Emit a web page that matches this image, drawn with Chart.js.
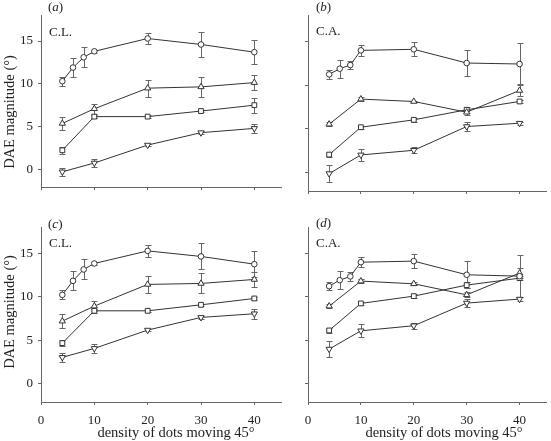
<!DOCTYPE html>
<html>
<head>
<meta charset="utf-8">
<script src="https://cdn.jsdelivr.net/npm/chart.js@4.4.1/dist/chart.umd.min.js"></script>
<style>
    body { margin: 0; background: #fff; }
    #page { position: relative; width: 551px; height: 441px; overflow: hidden;
            font-family: "Liberation Serif", "DejaVu Serif", serif; color: #222; }
    .panel { position: absolute; }
    .txt { position: absolute; white-space: nowrap; font-size: 13px; line-height: 14px; }
    .ytitle { position: absolute; white-space: nowrap; font-size: 14.5px; line-height: 16px;
              transform: translate(-50%, -50%) rotate(-90deg); }
    .xtitle { position: absolute; white-space: nowrap; font-size: 14.5px; line-height: 16px;
              transform: translate(-50%, -50%); }
</style>
</head>
<body>
<div id="page">
    <div class="panel" style="left:0;top:0;width:286px;height:200px"><canvas id="chart-a"></canvas></div>
    <div class="panel" style="left:286px;top:0;width:265px;height:200px"><canvas id="chart-b"></canvas></div>
    <div class="panel" style="left:0;top:212px;width:286px;height:229px"><canvas id="chart-c"></canvas></div>
    <div class="panel" style="left:286px;top:212px;width:265px;height:229px"><canvas id="chart-d"></canvas></div>

    <div class="txt" style="left:48px;top:0">(<i>a</i>)</div>
    <div class="txt" style="left:49px;top:25px">C.L.</div>
    <div class="txt" style="left:316px;top:0">(<i>b</i>)</div>
    <div class="txt" style="left:316px;top:24px">C.A.</div>
    <div class="txt" style="left:48px;top:217px">(<i>c</i>)</div>
    <div class="txt" style="left:49px;top:236px">C.L.</div>
    <div class="txt" style="left:316px;top:216px">(<i>d</i>)</div>
    <div class="txt" style="left:316px;top:236px">C.A.</div>

    <div class="ytitle" style="left:9px;top:112px">DAE magnitude (°)</div>
    <div class="ytitle" style="left:9px;top:312px">DAE magnitude (°)</div>
    <div class="xtitle" style="left:176px;top:432px">density of dots moving 45°</div>
    <div class="xtitle" style="left:444px;top:432px">density of dots moving 45°</div>
</div>

<script>
// ── Dados ────────────────────────────────────────────────────────────────────

const DENSITY_FINE = [4, 6, 8, 10, 20, 30, 40];   // círculos
const DENSITY = [4, 10, 20, 30, 40];              // demais séries

// (a) C.L.
const A_CIRCLE     = [10.3, 11.9, 13.1, 13.8, 15.3, 14.6, 13.7];
const A_CIRCLE_ERR = [0.5, 1.1, 1.15, 0.2, 0.65, 1.5, 1.42];
const A_UP         = [5.36, 7.08, 9.49, 9.64, 10.14];
const A_UP_ERR     = [0.78, 0.57, 1.0, 1.15, 0.9];
const A_SQUARE     = [2.22, 6.16, 6.16, 6.81, 7.5];
const A_SQUARE_ERR = [0.38, 0.2, 0.2, 0.15, 0.88];
const A_DOWN       = [-0.3, 0.73, 2.83, 4.28, 4.78];
const A_DOWN_ERR   = [0.5, 0.52, 0.15, 0.2, 0.57];

// (b) C.A.
const B_CIRCLE     = [11.25, 11.9, 12.32, 14.0, 14.12, 12.55, 12.44];
const B_CIRCLE_ERR = [0.52, 1.05, 0.5, 0.6, 0.8, 1.53, 2.4];
const B_UP         = [5.55, 8.42, 8.15, 6.92, 9.41];
const B_UP_ERR     = [0.2, 0.2, 0.1, 0.3, 0.69];
const B_SQUARE     = [2.07, 5.2, 6.05, 7.2, 8.15];
const B_SQUARE_ERR = [0.3, 0.15, 0.2, 0.35, 0.15];
const B_DOWN       = [-0.11, 2.03, 2.56, 5.28, 5.66];
const B_DOWN_ERR   = [1.0, 0.73, 0.35, 0.52, 0.15];

// (c) C.L.
const C_CIRCLE     = [10.24, 11.85, 13.16, 13.85, 15.3, 14.66, 13.77];
const C_CIRCLE_ERR = [0.5, 1.1, 1.15, 0.2, 0.67, 1.5, 1.46];
const C_UP         = [7.21, 8.94, 11.44, 11.55, 12.01];
const C_UP_ERR     = [0.8, 0.56, 1.0, 1.15, 0.9];
const C_SQUARE     = [4.68, 8.4, 8.4, 9.09, 9.82];
const C_SQUARE_ERR = [0.35, 0.2, 0.15, 0.15, 0.15];
const C_DOWN       = [3.04, 4.07, 6.18, 7.64, 8.06];
const C_DOWN_ERR   = [0.48, 0.52, 0.15, 0.2, 0.6];

// (d) C.A.
const D_CIRCLE     = [11.24, 11.93, 12.36, 14.0, 14.12, 12.55, 12.39];
const D_CIRCLE_ERR = [0.5, 1.05, 0.5, 0.6, 0.8, 1.53, 2.4];
const D_UP         = [8.94, 11.82, 11.51, 10.24, 12.74];
const D_UP_ERR     = [0.2, 0.2, 0.15, 0.3, 0.6];
const D_SQUARE     = [6.14, 9.25, 10.09, 11.36, 12.16];
const D_SQUARE_ERR = [0.25, 0.15, 0.2, 0.35, 0.2];
const D_DOWN       = [3.99, 6.1, 6.68, 9.29, 9.75];
const D_DOWN_ERR   = [0.96, 0.73, 0.35, 0.5, 0.2];

const X_TICKS = [0, 10, 20, 30, 40];
const Y_TICKS = [0, 5, 10, 15];

// ── Estilo ───────────────────────────────────────────────────────────────────

const AXIS_COLOR = '#666';
const LINE_COLOR = '#333';
const ERR_COLOR = '#666';
const TICK_FONT = { family: '"Liberation Serif", serif', size: 13 };

// barras de erro desenhadas pelas escalas do próprio gráfico
const errorBars = {
    id: 'errorBars',
    beforeDatasetsDraw(chart) {
        const { ctx, scales: { x, y } } = chart;
        ctx.save();
        ctx.strokeStyle = ERR_COLOR;
        ctx.lineWidth = 1;
        chart.data.datasets.forEach(ds => {
            ds.data.forEach((p, i) => {
                const e = ds.errors[i];
                if (!e) return;
                const px = Math.round(x.getPixelForValue(p.x)) + 0.5;
                const top = Math.round(y.getPixelForValue(p.y + e)) + 0.5;
                const bot = Math.round(y.getPixelForValue(p.y - e)) + 0.5;
                ctx.beginPath();
                ctx.moveTo(px, top); ctx.lineTo(px, bot);
                ctx.moveTo(px - 3, top); ctx.lineTo(px + 3, top);
                ctx.moveTo(px - 3, bot); ctx.lineTo(px + 3, bot);
                ctx.stroke();
            });
        });
        ctx.restore();
    },
};

function makeDataset(xs, ys, errs, style, radius, rotation) {
    return {
        data: xs.map((x, i) => ({ x, y: ys[i] })),
        errors: errs,
        borderColor: LINE_COLOR,
        borderWidth: 1,
        pointStyle: style,
        pointRadius: radius,
        pointRotation: rotation || 0,
        pointBackgroundColor: '#fff',
        pointBorderColor: LINE_COLOR,
        pointBorderWidth: 1,
        tension: 0,
    };
}

function keepTicks(list) {
    return (scale) => { scale.ticks = list.map(v => ({ value: v })); };
}

function makePanel(id, series, opts) {
    const { showX, showY, yWidth, xHeight, padRight } = opts;
    return new Chart(document.getElementById(id), {
        type: 'line',
        data: {
            datasets: [
                makeDataset(DENSITY_FINE, series[0], series[1], 'circle', 2.8),
                makeDataset(DENSITY, series[2], series[3], 'triangle', 3.6),
                makeDataset(DENSITY, series[4], series[5], 'rect', 3.4),
                makeDataset(DENSITY, series[6], series[7], 'triangle', 3.6, 180),
            ],
        },
        options: {
            responsive: true,
            maintainAspectRatio: false,
            animation: false,
            events: [],
            layout: { padding: { top: 15, right: padRight, left: 0, bottom: 0 } },
            plugins: { legend: { display: false }, tooltip: { enabled: false } },
            scales: {
                x: {
                    type: 'linear', min: 0, max: 45,
                    afterBuildTicks: keepTicks(X_TICKS),
                    afterFit: (s) => { s.height = xHeight; },
                    ticks: { display: showX, color: '#222', font: TICK_FONT, padding: 8, maxRotation: 0 },
                    grid: { drawOnChartArea: false, drawTicks: true, tickLength: 3, color: AXIS_COLOR },
                    border: { color: AXIS_COLOR },
                },
                y: {
                    type: 'linear', min: -2.1, max: 18.05,
                    afterBuildTicks: keepTicks(Y_TICKS),
                    afterFit: (s) => { s.width = yWidth; },
                    ticks: { display: showY, color: '#222', font: TICK_FONT, padding: 5 },
                    grid: { drawOnChartArea: false, drawTicks: true, tickLength: 3, color: AXIS_COLOR },
                    border: { color: AXIS_COLOR },
                },
            },
        },
        plugins: [errorBars],
    });
}

// ── Painéis ──────────────────────────────────────────────────────────────────

makePanel('chart-a',
    [A_CIRCLE, A_CIRCLE_ERR, A_UP, A_UP_ERR, A_SQUARE, A_SQUARE_ERR, A_DOWN, A_DOWN_ERR],
    { showX: false, showY: true, yWidth: 41, xHeight: 9, padRight: 2 });

makePanel('chart-b',
    [B_CIRCLE, B_CIRCLE_ERR, B_UP, B_UP_ERR, B_SQUARE, B_SQUARE_ERR, B_DOWN, B_DOWN_ERR],
    { showX: false, showY: false, yWidth: 22, xHeight: 9, padRight: 0 });

makePanel('chart-c',
    [C_CIRCLE, C_CIRCLE_ERR, C_UP, C_UP_ERR, C_SQUARE, C_SQUARE_ERR, C_DOWN, C_DOWN_ERR],
    { showX: true, showY: true, yWidth: 41, xHeight: 39, padRight: 2 });

makePanel('chart-d',
    [D_CIRCLE, D_CIRCLE_ERR, D_UP, D_UP_ERR, D_SQUARE, D_SQUARE_ERR, D_DOWN, D_DOWN_ERR],
    { showX: true, showY: false, yWidth: 22, xHeight: 39, padRight: 0 });
</script>
</body>
</html>
